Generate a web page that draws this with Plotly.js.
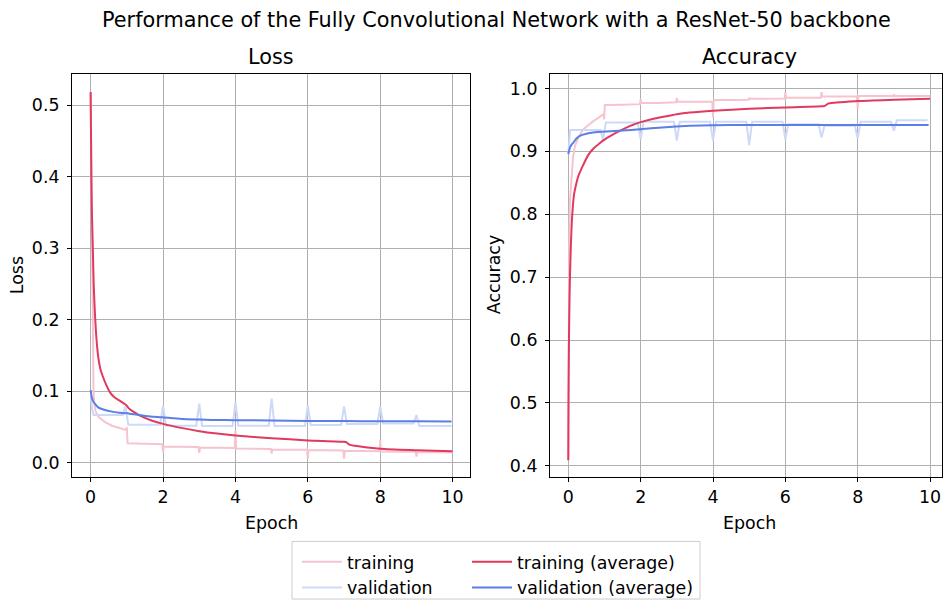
<!DOCTYPE html>
<html>
<head>
<meta charset="utf-8">
<script src="https://cdn.plot.ly/plotly-3.0.1.min.js"></script>
<style>html,body{margin:0;padding:0;background:#fff;}#chart{width:944px;height:606px;}</style>
</head>
<body>
<div id="chart"></div>
<script>
// ---------- data ----------
const trainLossX = [0,0.02,0.04,0.055,0.065,0.08,0.1,0.13,0.22,0.4, 0.59,0.8,0.98,1.0,1.02, 1.5,1.98,2.0,2.02, 2.5,2.98,3.0,3.02, 3.5,3.98,4.0,4.02, 4.5,4.98,5.0,5.02, 5.5,5.98,6.0,6.02, 6.5,6.98,7.0,7.02, 7.5,7.98,8.0,8.02, 8.5,8.98,9.0,9.02, 9.5,10.0];
const trainLoss = [0.518,0.40,0.28,0.20,0.14,0.10,0.085,0.073,0.064,0.057, 0.052,0.049,0.046,0.050,0.0275, 0.0268,0.0262,0.015,0.0228, 0.0225,0.0222,0.0139,0.0214, 0.0212,0.0210,0.045,0.0202, 0.0199,0.0196,0.013,0.0188, 0.0186,0.0184,0.006,0.0178, 0.0176,0.0175,0.006,0.0168, 0.0167,0.0165,0.0315,0.0160, 0.0158,0.0157,0.009,0.0150, 0.0148,0.0146];

const valLossX = [0,0.04,0.08,0.89,0.96,1.04, 1.92,2.0,2.08, 2.92,3.0,3.08, 3.92,4.0,4.08, 4.92,5.0,5.08, 5.92,6.0,6.08, 6.92,7.0,7.08, 7.92,8.0,8.08, 8.92,9.0,9.08, 9.97];
const valLoss = [0.1017,0.075,0.067,0.067,0.079,0.0535, 0.0535,0.080,0.052, 0.052,0.083,0.0515, 0.0515,0.085,0.052, 0.052,0.090,0.0515, 0.0515,0.080,0.053, 0.053,0.079,0.0545, 0.0545,0.079,0.055, 0.055,0.067,0.0515, 0.0515];

const trainLossAvgX = [0,0.005,0.01,0.02,0.035,0.05,0.065,0.085,0.11,0.13, 0.16,0.21,0.27,0.35,0.44,0.53,0.65,0.8,0.95,1.0, 1.04,1.2,1.45,1.7,2.0,2.5,3.0,3.5,4.0,5.0, 6.0,7.0,7.07,7.15,7.3,8.0,9.0,10.0];
const trainLossAvg = [0.518,0.49,0.46,0.40,0.35,0.32,0.29,0.25,0.218,0.198, 0.174,0.148,0.131,0.119,0.108,0.099,0.092,0.087,0.082,0.080, 0.077,0.071,0.064,0.059,0.0546,0.049,0.0444,0.041,0.0384,0.0345, 0.0315,0.0295,0.0288,0.0255,0.024,0.0199,0.0178,0.0162];

const valLossAvgX = [0,0.03,0.07,0.13,0.2,0.31,0.45,0.59,0.8,0.96, 1.0,1.05,1.33,1.65,1.97,2.52,3.0,3.35,4.0,5.0, 6.0,7.0,8.0,9.0,9.97];
const valLossAvg = [0.1017,0.092,0.086,0.082,0.078,0.0754,0.0732,0.0717,0.070,0.0694, 0.0698,0.0690,0.067,0.065,0.0638,0.0615,0.0606,0.060,0.0598,0.0592, 0.0587,0.0585,0.0583,0.0582,0.058];

const trainAccX = [0,0.01,0.025,0.045,0.094,0.13,0.185,0.28,0.41,0.55, 0.69,0.85,0.97,0.99,1.01, 1.5,1.98,2.0,2.02, 2.5,2.98,3.0,3.02, 3.5,3.98,4.0,4.02, 4.5,4.98,5.0,5.02, 5.5,5.98,6.0,6.02, 6.5,6.98,7.0,7.02, 7.5,7.98,8.0,8.02, 8.5,8.98,9.0,9.02, 9.5,10.0];
const trainAcc = [0.409,0.62,0.75,0.82,0.856,0.89,0.909,0.922,0.935,0.942, 0.948,0.954,0.959,0.951,0.9735, 0.974,0.975,0.983,0.977, 0.977,0.978,0.985,0.979, 0.979,0.979,0.954,0.9815, 0.9816,0.9818,0.985,0.9835, 0.9837,0.984,0.994,0.985, 0.985,0.985,0.994,0.987, 0.987,0.987,0.968,0.988, 0.988,0.988,0.9905,0.988, 0.988,0.988];

const valAccX = [0,0.05,0.89,0.96,1.04, 1.92,2.0,2.08, 2.92,3.0,3.08, 3.92,4.0,4.08, 4.92,5.0,5.08, 5.92,6.0,6.08, 6.92,7.0,7.08, 7.92,8.0,8.08, 8.92,9.0,9.08, 9.93];
const valAcc = [0.896,0.934,0.934,0.918,0.946, 0.946,0.919,0.947, 0.947,0.917,0.947, 0.947,0.917,0.947, 0.947,0.910,0.947, 0.947,0.919,0.943, 0.943,0.922,0.9405, 0.9405,0.9205,0.947, 0.947,0.9326,0.9495, 0.9495];

const trainAccAvgX = [0,0.005,0.012,0.02,0.035,0.05,0.08,0.11,0.16,0.23, 0.28,0.41,0.55,0.69,0.85,1.01,1.34,1.65,1.98,2.3, 2.63,3.0,3.36,4.0,5.0,6.0,7.0,7.08,7.2,8.0, 9.0,10.0];
const trainAccAvg = [0.409,0.5,0.56,0.61,0.67,0.71,0.765,0.8,0.832,0.851, 0.861,0.878,0.894,0.904,0.912,0.919,0.930,0.939,0.946,0.951, 0.955,0.959,0.9616,0.9645,0.9675,0.9698,0.9715,0.972,0.9762,0.980, 0.982,0.9837];

const valAccAvgX = [0,0.03,0.07,0.14,0.22,0.32,0.5,0.69,1.06,1.5, 1.98,2.6,3.36,4.0,5.0,6.0,7.0,8.0,9.0,9.96];
const valAccAvg = [0.8957,0.903,0.909,0.914,0.920,0.9247,0.928,0.930,0.9316,0.933, 0.935,0.938,0.9405,0.9415,0.9418,0.942,0.942,0.942,0.942,0.942];

const seriesNames = ['training','validation','training (average)','validation (average)'];
const epochTicks = [0,2,4,6,8,10];
const lossTicks = [0.0,0.1,0.2,0.3,0.4,0.5];
const accTicks = [0.4,0.5,0.6,0.7,0.8,0.9,1.0];

// ---------- styling ----------
const W = 944, H = 606;
const C_PINK = '#f6c4cf', C_LBLUE = '#cfd9f7', C_RED = '#e03a5e', C_BLUE = '#5b7fe6';
const FONT = 'DejaVu Sans, sans-serif';
const FS = 17.4, FT = 20.8;
const px2x = p => p / W;
const px2y = p => (H - p) / H;

function tr(x, y, color, name, legend, group, ax, show, smooth) {
  return {x: x, y: y, type: 'scatter', mode: 'lines', name: name,
    line: {color: color, width: 2, shape: smooth ? 'spline' : 'linear', smoothing: 0.6},
    legend: legend, legendgroup: group,
    showlegend: show, xaxis: ax[0], yaxis: ax[1], hoverinfo: 'x+y'};
}
const A1 = ['x','y'], A2 = ['x2','y2'];
const data = [
  tr(trainLossX, trainLoss, C_PINK, seriesNames[0], 'legend', 'g1', A1, true, false),
  tr(valLossX, valLoss, C_LBLUE, seriesNames[1], 'legend', 'g2', A1, true, false),
  tr(trainLossAvgX, trainLossAvg, C_RED, seriesNames[2], 'legend2', 'g3', A1, true, true),
  tr(valLossAvgX, valLossAvg, C_BLUE, seriesNames[3], 'legend2', 'g4', A1, true, true),
  tr(trainAccX, trainAcc, C_PINK, seriesNames[0], 'legend', 'g1', A2, false, false),
  tr(valAccX, valAcc, C_LBLUE, seriesNames[1], 'legend', 'g2', A2, false, false),
  tr(trainAccAvgX, trainAccAvg, C_RED, seriesNames[2], 'legend2', 'g3', A2, false, true),
  tr(valAccAvgX, valAccAvg, C_BLUE, seriesNames[3], 'legend2', 'g4', A2, false, true)
];

const axisCommon = {
  showgrid: true, gridcolor: '#b0b0b0', gridwidth: 1, zeroline: false,
  showline: true, linecolor: '#000', linewidth: 1, mirror: true,
  ticks: 'outside', ticklen: 4, tickwidth: 1, tickcolor: '#000',
  tickfont: {family: FONT, size: FS, color: '#000'}
};
function ax(extra) { return Object.assign({}, axisCommon, extra); }

const legendCommon = {
  orientation: 'v', bgcolor: 'rgba(0,0,0,0)', borderwidth: 0,
  font: {family: FONT, size: FS, color: '#000'},
  traceorder: 'grouped', tracegroupgap: 0, xanchor: 'left', yanchor: 'top',
  itemwidth: 40, itemclick: false, itemdoubleclick: false
};

const layout = {
  width: W, height: H,
  margin: {l: 0, r: 0, t: 0, b: 0},
  paper_bgcolor: '#fff', plot_bgcolor: '#fff',
  font: {family: FONT, color: '#000'},
  xaxis: ax({domain: [px2x(72), px2x(470)], range: [-0.515, 10.48], tickvals: epochTicks, anchor: 'y', ticklabelstandoff: 0}),
  yaxis: ax({domain: [px2y(480), px2y(74)], range: [-0.0194, 0.544], tickvals: lossTicks, tickformat: '.1f', anchor: 'x', ticklabelstandoff: 4}),
  xaxis2: ax({domain: [px2x(550), px2x(942)], range: [-0.506, 10.33], tickvals: epochTicks, anchor: 'y2', ticklabelstandoff: 0}),
  yaxis2: ax({domain: [px2y(480), px2y(74)], range: [0.3826, 1.0237], tickvals: accTicks, tickformat: '.1f', anchor: 'x2', ticklabelstandoff: 4}),
  legend: Object.assign({}, legendCommon, {x: px2x(297), y: px2y(548)}),
  legend2: Object.assign({}, legendCommon, {x: px2x(467), y: px2y(548)}),
  shapes: [{type: 'rect', xref: 'paper', yref: 'paper',
    x0: px2x(292), x1: px2x(700), y0: px2y(603), y1: px2y(545),
    line: {color: '#cccccc', width: 1}, fillcolor: 'rgba(255,255,255,0.8)', layer: 'below'}],
  annotations: [
    {text: 'Performance of the Fully Convolutional Network with a ResNet-50 backbone', xref: 'paper', yref: 'paper',
     x: px2x(496), y: px2y(20), xanchor: 'center', yanchor: 'middle', showarrow: false, font: {family: FONT, size: FT, color: '#000'}},
    {text: 'Loss', xref: 'paper', yref: 'paper', x: px2x(271), y: px2y(57), xanchor: 'center', yanchor: 'middle', showarrow: false, font: {family: FONT, size: FT, color: '#000'}},
    {text: 'Accuracy', xref: 'paper', yref: 'paper', x: px2x(749), y: px2y(57), xanchor: 'center', yanchor: 'middle', showarrow: false, font: {family: FONT, size: FT, color: '#000'}},
    {text: 'Epoch', xref: 'paper', yref: 'paper', x: px2x(271), y: px2y(526), xanchor: 'center', yanchor: 'middle', showarrow: false, font: {family: FONT, size: FS, color: '#000'}},
    {text: 'Epoch', xref: 'paper', yref: 'paper', x: px2x(749), y: px2y(526), xanchor: 'center', yanchor: 'middle', showarrow: false, font: {family: FONT, size: FS, color: '#000'}},
    {text: 'Loss', xref: 'paper', yref: 'paper', x: px2x(17), y: px2y(277), xanchor: 'center', yanchor: 'middle', textangle: -90, showarrow: false, font: {family: FONT, size: FS, color: '#000'}},
    {text: 'Accuracy', xref: 'paper', yref: 'paper', x: px2x(494), y: px2y(277), xanchor: 'center', yanchor: 'middle', textangle: -90, showarrow: false, font: {family: FONT, size: FS, color: '#000'}}
  ]
};

Plotly.newPlot('chart', data, layout, {displayModeBar: false, staticPlot: true});
</script>
</body>
</html>
